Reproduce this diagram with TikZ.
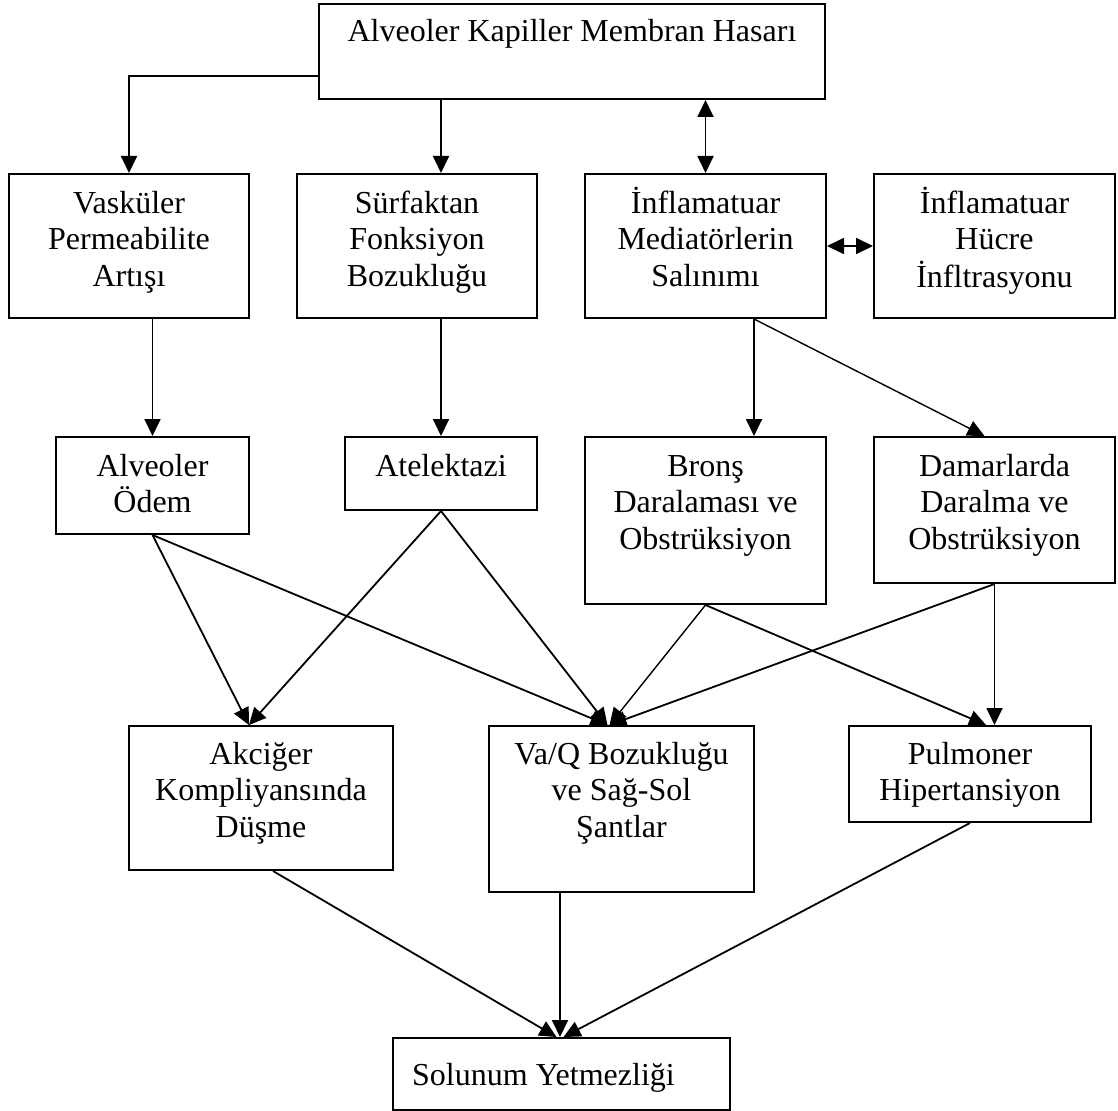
\documentclass[tikz,border=0pt]{standalone}
\usepackage{fontspec}
\setmainfont{Liberation Serif}
\usetikzlibrary{arrows.meta}
\begin{document}
\begin{tikzpicture}[x=1pt,y=-1pt,
  box/.style={draw, line width=2pt, inner sep=0pt, anchor=north west},
  lbl/.style={anchor=base, inner sep=0pt, font=\fontsize{32}{36.7}\selectfont},
  arr/.style={line width=1.8pt, -{Triangle[length=17pt,width=16pt]}},
  darr/.style={line width=1.8pt, {Triangle[length=17pt,width=16pt]}-{Triangle[length=17pt,width=16pt]}}]
\useasboundingbox (0,0) rectangle (1118,1110);
% boxes
\node[box, minimum width=506pt, minimum height=95pt] (top) at (318,3) {};
\node[box, minimum width=240pt, minimum height=144pt] (vask) at (8,173) {};
\node[box, minimum width=240pt, minimum height=144pt] (surf) at (296,173) {};
\node[box, minimum width=241pt, minimum height=144pt] (med) at (584,173) {};
\node[box, minimum width=241pt, minimum height=144pt] (huc) at (873,173) {};
\node[box, minimum width=193pt, minimum height=97pt] (odem) at (55,436) {};
\node[box, minimum width=192pt, minimum height=73pt] (atel) at (344,436) {};
\node[box, minimum width=241pt, minimum height=167pt] (bron) at (584,436) {};
\node[box, minimum width=241pt, minimum height=146pt] (dam) at (873,436) {};
\node[box, minimum width=264pt, minimum height=144pt] (akc) at (128,725) {};
\node[box, minimum width=265pt, minimum height=166pt] (vaq) at (488,725) {};
\node[box, minimum width=242pt, minimum height=96pt] (pul) at (848,725) {};
\node[box, minimum width=337pt, minimum height=72pt] (sol) at (392,1037) {};
% texts
\node[lbl] (t1) at ([yshift=-39pt]top.north) {Alveoler Kapiller Membran Hasarı};
\node[lbl] (t2) at ([yshift=-40pt]vask.north) {\begin{tabular}[t]{@{}c@{}}Vasküler\\Permeabilite\\Artışı\end{tabular}};
\node[lbl] (t3) at ([yshift=-40pt]surf.north) {\begin{tabular}[t]{@{}c@{}}Sürfaktan\\Fonksiyon\\Bozukluğu\end{tabular}};
\node[lbl] (t4) at ([yshift=-40pt]med.north) {\begin{tabular}[t]{@{}c@{}}İnflamatuar\\Mediatörlerin\\Salınımı\end{tabular}};
\node[lbl] (t5) at ([yshift=-40pt]huc.north) {\begin{tabular}[t]{@{}c@{}}İnflamatuar\\Hücre\\İnfltrasyonu\end{tabular}};
\node[lbl] (t6) at ([yshift=-40pt]odem.north) {\begin{tabular}[t]{@{}c@{}}Alveoler\\Ödem\end{tabular}};
\node[lbl] (t7) at ([yshift=-40pt]atel.north) {Atelektazi};
\node[lbl] (t8) at ([yshift=-40pt]bron.north) {\begin{tabular}[t]{@{}c@{}}Bronş\\Daralaması ve\\Obstrüksiyon\end{tabular}};
\node[lbl] (t9) at ([yshift=-40pt]dam.north) {\begin{tabular}[t]{@{}c@{}}Damarlarda\\Daralma ve\\Obstrüksiyon\end{tabular}};
\node[lbl] (t10) at ([yshift=-39pt]akc.north) {\begin{tabular}[t]{@{}c@{}}Akciğer\\Kompliyansında\\Düşme\end{tabular}};
\node[lbl] (t11) at ([yshift=-39pt]vaq.north) {\begin{tabular}[t]{@{}c@{}}Va/Q Bozukluğu\\ve Sağ-Sol\\Şantlar\end{tabular}};
\node[lbl] (t12) at ([yshift=-39pt]pul.north) {\begin{tabular}[t]{@{}c@{}}Pulmoner\\Hipertansiyon\end{tabular}};
\node[lbl, anchor=base west] (t13) at ([xshift=20pt,yshift=-48pt]sol.north west) {Solunum Yetmezliği};
% connectors
\draw[arr] ([yshift=-24.5pt]top.west) -| (vask.north);
\draw[arr] (top.south -| atel.north) -- (surf.north -| atel.north);
\draw[darr] (top.south -| med.north) -- (med.north);
\draw[darr] (med.east) -- (huc.west);
\draw[arr] (vask.south -| odem.north) -- (odem.north);
\draw[arr] (surf.south -| atel.north) -- (atel.north);
\coordinate (mo) at ([xshift=48.5pt]med.south);
\draw[arr] (mo) -- (mo |- bron.north);
\draw[arr, line width=1.4pt] (mo) -- ([xshift=-10pt]dam.north);
\draw[arr] (odem.south) -- ([xshift=-12pt]akc.north);
\draw[arr] (odem.south) -- ([xshift=-14pt]vaq.north);
\draw[arr] (atel.south) -- ([xshift=-12pt]akc.north);
\draw[arr] (atel.south) -- ([xshift=-14pt]vaq.north);
\draw[arr, line width=1.4pt] (bron.south) -- ([xshift=-12pt]vaq.north);
\draw[arr] (bron.south) -- ([xshift=16pt]pul.north);
\draw[arr] (dam.south) -- ([xshift=-12pt]vaq.north);
\draw[arr] (dam.south) -- (dam.south |- pul.north);
\draw[arr] ([xshift=12pt]akc.south) -- ([xshift=-5pt]sol.north);
\coordinate (vb) at ([xshift=-61.5pt]vaq.south);
\draw[arr] (vb) -- (vb |- sol.north);
\draw[arr] (pul.south) -- ([xshift=2pt]sol.north);
\end{tikzpicture}
\end{document}
